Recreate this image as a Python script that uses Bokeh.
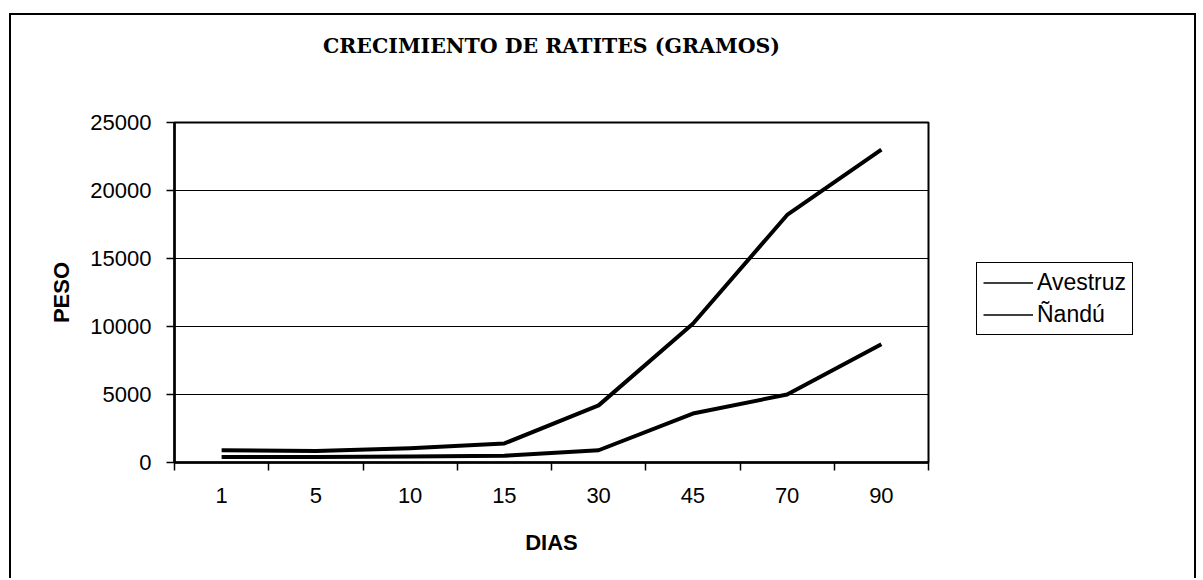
from bokeh.plotting import figure
from bokeh.models import Range1d, FixedTicker, Legend, LegendItem, Spacer, Title
from bokeh.layouts import column, row
from bokeh.embed import file_html
from bokeh.resources import INLINE

# ---- data ----
dias = ["1", "5", "10", "15", "30", "45", "70", "90"]
avestruz = [900, 850, 1050, 1400, 4200, 10200, 18200, 23000]
nandu = [400, 400, 450, 500, 900, 3600, 5000, 8700]
y_ticks = [0, 5000, 10000, 15000, 20000, 25000]
y_labels = ["0", "5000", "10000", "15000", "20000", "25000"]
series_names = ["Avestruz", "Ñandú"]

xpos = [i + 0.5 for i in range(len(dias))]
bounds = list(range(len(dias) + 1))

H = 565
p = figure(width=937, height=H, output_backend="svg", toolbar_location=None,
           x_range=Range1d(0, len(dias)), y_range=Range1d(0, 25000),
           min_border_left=163, min_border_right=20, min_border_top=107,
           min_border_bottom=118)
p.styles = {"border-top": "2px solid black", "border-left": "2px solid black"}

p.title.text = "CRECIMIENTO DE RATITES (GRAMOS)"
p.title.align = "center"
p.title.text_font = "DejaVu Serif"
p.title.text_font_style = "bold"
p.title.text_font_size = "20.5px"
p.title.text_color = "black"
p.title.standoff = 10
# spacer between the title and the plot area
p.add_layout(Title(text=" ", text_font_size="1px", standoff=57), "above")

p.outline_line_color = "black"
p.outline_line_width = 2
p.background_fill_color = "white"
p.border_fill_color = "white"

# grid
p.xgrid.visible = False
p.ygrid.ticker = FixedTicker(ticks=y_ticks)
p.ygrid.grid_line_color = "black"
p.ygrid.grid_line_width = 1

# x axis: labels at category centres, tick marks between categories
xa = p.xaxis[0]
xa.ticker = FixedTicker(ticks=xpos, minor_ticks=bounds)
xa.major_label_overrides = {xv: lab for xv, lab in zip(xpos, dias)}
xa.major_tick_out = 0
xa.major_tick_in = 0
xa.minor_tick_out = 8
xa.minor_tick_in = 0
xa.minor_tick_line_color = "black"
xa.minor_tick_line_width = 1.5
xa.axis_line_color = "black"
xa.axis_line_width = 2.5
xa.major_label_text_font = "Liberation Sans"
xa.major_label_text_font_size = "22px"
xa.major_label_text_color = "black"
xa.major_label_standoff = 17
xa.axis_label = "DIAS"
xa.axis_label_text_font = "Liberation Sans"
xa.axis_label_text_font_style = "bold"
xa.axis_label_text_font_size = "22px"
xa.axis_label_text_color = "black"
xa.axis_label_standoff = 24

ya = p.yaxis[0]
ya.ticker = FixedTicker(ticks=y_ticks, minor_ticks=[])
ya.major_label_overrides = {v: lab for v, lab in zip(y_ticks, y_labels)}
ya.major_tick_out = 8
ya.major_tick_in = 0
ya.major_tick_line_color = "black"
ya.major_tick_line_width = 1.5
ya.minor_tick_out = 0
ya.minor_tick_in = 0
ya.axis_line_color = "black"
ya.axis_line_width = 2.5
ya.major_label_text_font = "Liberation Sans"
ya.major_label_text_font_size = "22px"
ya.major_label_text_color = "black"
ya.major_label_standoff = 15
ya.axis_label = "PESO"
ya.axis_label_text_font = "Liberation Sans"
ya.axis_label_text_font_style = "bold"
ya.axis_label_text_font_size = "22px"
ya.axis_label_text_color = "black"
ya.axis_label_standoff = 13

# series
p.line(xpos, avestruz, line_color="black", line_width=4, line_join="round")
p.line(xpos, nandu, line_color="black", line_width=4, line_join="round")

# ---- legend panel (right part of the chart box) ----
pl = figure(width=250, height=H, output_backend="svg", toolbar_location=None,
            x_axis_type=None, y_axis_type=None,
            x_range=Range1d(0, len(dias)), y_range=Range1d(-2, -1),
            min_border=0)
pl.styles = {"border-top": "2px solid black", "border-right": "2px solid black"}
pl.outline_line_color = None
pl.background_fill_color = "white"
pl.border_fill_color = "white"
# thin samples (series lie outside this panel's visible range)
la = pl.line(xpos, avestruz, line_color="black", line_width=1.5)
ln = pl.line(xpos, nandu, line_color="black", line_width=1.5)
legend = Legend(items=[LegendItem(label=series_names[0], renderers=[la]),
                       LegendItem(label=series_names[1], renderers=[ln])],
                location=(30, 127))
legend.border_line_color = "black"
legend.border_line_width = 1
legend.border_line_alpha = 1
legend.background_fill_color = "white"
legend.background_fill_alpha = 1
legend.label_text_font = "Liberation Sans"
legend.label_text_font_size = "23px"
legend.label_text_color = "black"
legend.glyph_width = 50
legend.glyph_height = 25
legend.label_height = 25
legend.label_standoff = 4
legend.spacing = 5
legend.padding = 6
legend.margin = 0
pl.add_layout(legend)

layout = row(Spacer(width=9, height=10),
             column(Spacer(height=13, width=10), row(p, pl)))
open("out.html", "w").write(file_html(layout, INLINE))
